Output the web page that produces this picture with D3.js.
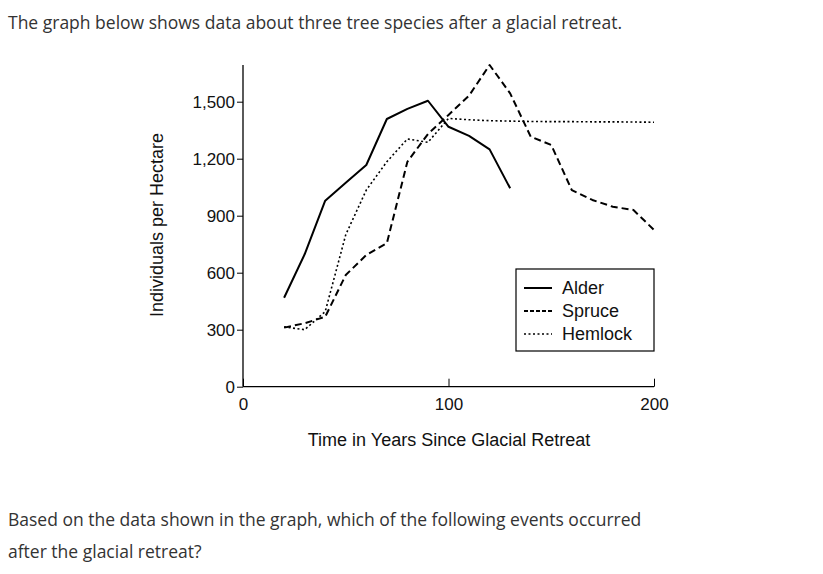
<!DOCTYPE html>
<html><head><meta charset="utf-8">
<script src="https://cdn.jsdelivr.net/npm/d3@7"></script>
<style>
body{margin:0;background:#fff;font-family:"Open Sans","Liberation Sans",Arial,sans-serif;}
.q{position:absolute;left:8px;color:#333;font-size:17.5px;}
</style></head><body>
<div class="q" style="top:10px">The graph below shows data about three tree species after a glacial retreat.</div>
<div class="q" style="top:503px;line-height:32px">Based on the data shown in the graph, which of the following events occurred<br>after the glacial retreat?</div>
<svg id="chart" width="823" height="574" style="position:absolute;left:0;top:0"></svg>
<script>
// data
var alderYears = [20,30,40,50,60,70,80,90,100,110,120,130]
var alderValues = [468,697,979,1074,1167,1409,1462,1505,1368,1320,1249,1044]
var spruceYears = [20,30,40,50,60,70,80,90,100,110,120,130,140,150,160,170,180,190,200]
var spruceValues = [311,334,368,588,693,755,1184,1330,1430,1532,1693,1544,1316,1272,1035,983,947,930,825]
var hemlockYears = [20,30,40,50,60,70,80,90,100,110,120,130,140,150,160,170,180,190,200]
var hemlockValues = [315,300,395,800,1035,1184,1304,1286,1412,1405,1400,1398,1396,1395,1395,1394,1394,1393,1392]
var xTicks = [0,100,200]
var yTicks = [0,300,600,900,1200,1500]

var F = "'Liberation Sans',Arial,sans-serif"
var svg = d3.select("#chart")
var x = d3.scaleLinear().domain([0,200]).range([243,654])
var y = d3.scaleLinear().domain([0,300]).range([386.7,329.7])

// axes
svg.append("line").attr("x1",243).attr("x2",243).attr("y1",65).attr("y2",386.7).attr("stroke","#000").attr("stroke-width",1.3)
svg.append("line").attr("x1",243).attr("x2",654).attr("y1",386.7).attr("y2",386.7).attr("stroke","#000").attr("stroke-width",1.3)
var yAxis = d3.axisLeft(y).tickValues(yTicks).tickSize(6).tickPadding(2).tickFormat(d3.format(","))
svg.append("g").attr("transform","translate(243,0)").call(yAxis)
   .call(g=>{g.select(".domain").remove();g.selectAll("text").attr("font-size",17).attr("font-family",F).attr("fill","#111")})
var xAxis = d3.axisBottom(x).tickValues(xTicks).tickSize(-8).tickPadding(11)
svg.append("g").attr("transform","translate(0,386.7)").call(xAxis)
   .call(g=>{g.select(".domain").remove();g.selectAll("text").attr("font-size",17).attr("font-family",F).attr("fill","#111")})

svg.append("text").attr("x",449).attr("y",446).attr("text-anchor","middle").attr("font-size",18).attr("font-family",F).attr("fill","#111").text("Time in Years Since Glacial Retreat")
svg.append("text").attr("transform","translate(163,225) rotate(-90)").attr("text-anchor","middle").attr("font-size",18).attr("font-family",F).attr("fill","#111").text("Individuals per Hectare")

var line = d3.line().x(d=>x(d[0])).y(d=>y(d[1]))
var series = [
  {name:"Alder", years:alderYears, vals:alderValues, dash:null, w:2},
  {name:"Spruce", years:spruceYears, vals:spruceValues, dash:"7,4", w:2},
  {name:"Hemlock", years:hemlockYears, vals:hemlockValues, dash:"2,2.5", w:1.6}
]
series.forEach(s=>{
  svg.append("path").datum(d3.zip(s.years,s.vals)).attr("d",line)
     .attr("fill","none").attr("stroke","#000").attr("stroke-width",s.w)
     .attr("stroke-dasharray",s.dash).attr("stroke-linejoin","round")
})

// legend
var lg = svg.append("g").attr("transform","translate(516,269)")
lg.append("rect").attr("width",138).attr("height",82).attr("fill","#fff").attr("stroke","#000").attr("stroke-width",1.2)
series.forEach((s,i)=>{
  var yy = 19 + i*23
  lg.append("line").attr("x1",8).attr("x2",36).attr("y1",yy).attr("y2",yy).attr("stroke","#000")
    .attr("stroke-width",s.w).attr("stroke-dasharray",s.name=="Spruce"?"4,2":s.dash)
  lg.append("text").attr("x",46).attr("y",yy+6).attr("font-size",18).attr("font-family",F).attr("fill","#111").text(s.name)
})
</script>
</body></html>
